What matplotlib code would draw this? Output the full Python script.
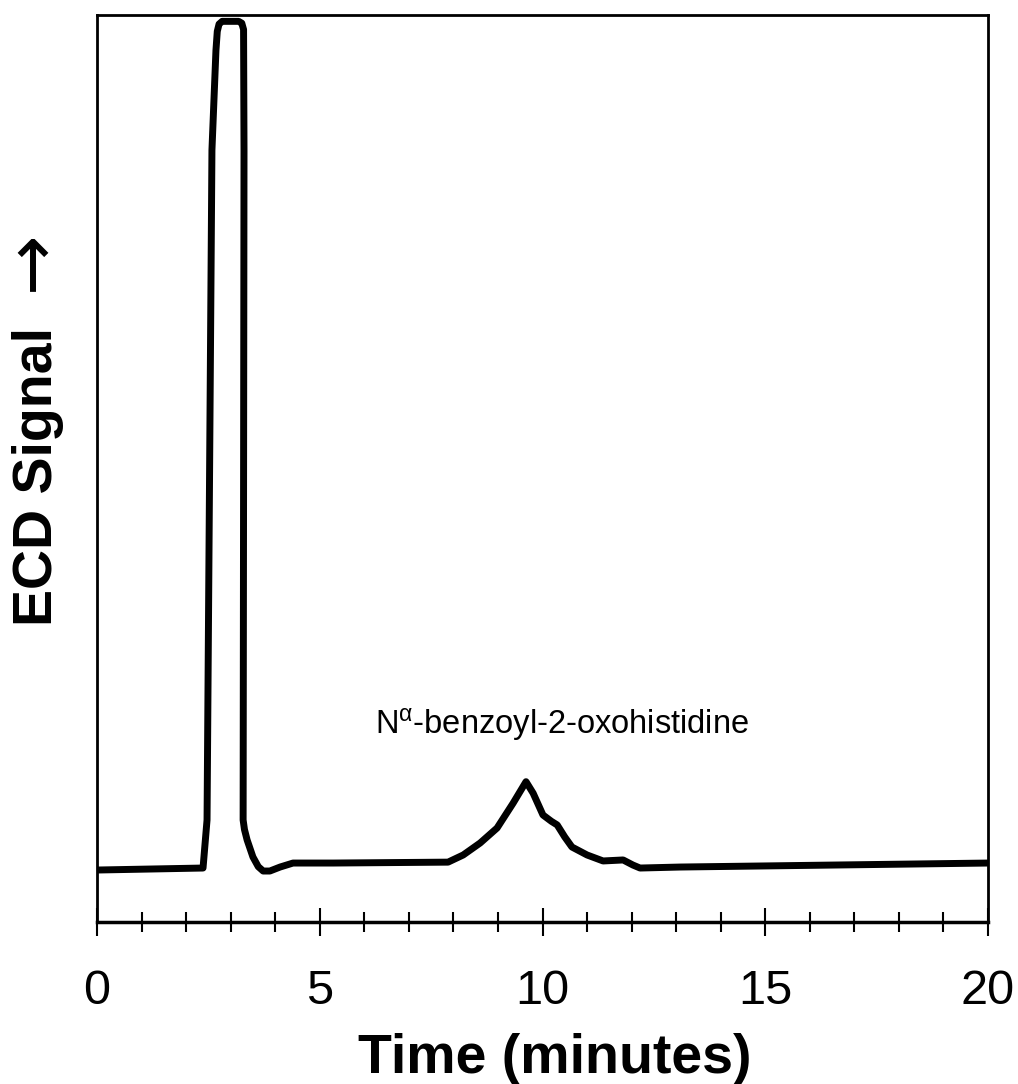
import matplotlib
matplotlib.use("Agg")
import matplotlib.pyplot as plt

plt.rcParams['font.family'] = ['Liberation Sans', 'DejaVu Sans']
plt.rcParams['mathtext.fontset'] = 'custom'
plt.rcParams['mathtext.rm'] = 'Liberation Sans'
plt.rcParams['mathtext.it'] = 'Liberation Sans'

# chromatogram trace (time in minutes, signal in arbitrary units)
time_min = [0.0, 2.38, 2.47, 2.58, 2.67, 2.70, 2.74, 2.81, 3.18, 3.25, 3.29, 3.30, 3.28,
            3.31, 3.37, 3.50, 3.62, 3.73, 3.88, 4.11, 4.40, 5.3, 7.88, 8.22, 8.60, 8.98,
            9.34, 9.63, 9.79, 10.01, 10.20, 10.33, 10.50, 10.66, 11.00, 11.36, 11.81,
            12.03, 12.19, 13.09, 20.0]
signal = [5.73, 5.95, 11.25, 85.1, 96.1, 98.2, 99.0, 99.3, 99.3, 99.1, 98.4, 85.0, 11.25,
          10.2, 9.04, 7.17, 6.1, 5.62, 5.62, 6.06, 6.50, 6.50, 6.6, 7.39, 8.71, 10.36,
          13.1, 15.47, 14.2, 11.8, 11.1, 10.7, 9.37, 8.27, 7.39, 6.73, 6.84,
          6.28, 5.95, 6.06, 6.5]

peak_label = r"N$^{\mathrm{\alpha}}$-benzoyl-2-oxohistidine"
peak_label_pos = (6.24, 20.8)

fig = plt.figure(figsize=(10.18, 10.84), dpi=100)
ax = fig.add_axes([97/1018, 1 - 922/1084, (988-97)/1018, (922-15)/1084])

ax.plot(time_min, signal, color='black', lw=5, solid_joinstyle='round',
        solid_capstyle='round')
ax.text(peak_label_pos[0], peak_label_pos[1], peak_label, fontsize=23.5,
        ha='left', va='baseline')

ax.set_xlim(0, 20)
ax.set_ylim(0, 100)
ax.set_xticks([0, 5, 10, 15, 20])
ax.set_xticks(range(0, 21), minor=True)
ax.set_yticks([])
ax.tick_params(axis='x', which='major', direction='inout', length=20, width=1.5,
               labelsize=35, pad=24)
ax.tick_params(axis='x', which='minor', direction='inout', length=15, width=1.5)
for side in ['left', 'right', 'top']:
    ax.spines[side].set_linewidth(2)
ax.spines['bottom'].set_linewidth(2.5)

fig.text(555/1018, 11/1084, "Time (minutes)", fontsize=40, fontweight='bold',
         ha='center', va='baseline')
fig.text(38/1018, 1 - 476/1084, "ECD Signal", fontsize=40, fontweight='bold',
         rotation=90, ha='center', va='center')
fig.text(33/1018, 1 - 261/1084, "\u2192", fontsize=52, family='DejaVu Sans',
         rotation=90, ha='center', va='center')

fig.savefig("out.png", dpi=100)
